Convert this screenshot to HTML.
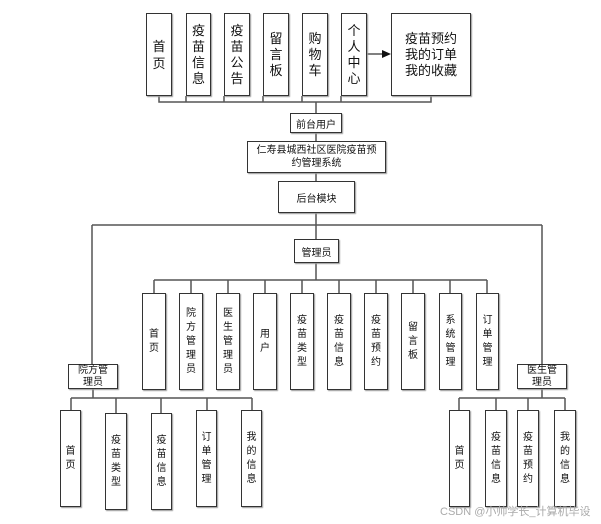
<!DOCTYPE html>
<html><head><meta charset="utf-8"><style>
body{margin:0;background:#fff;}
#c{position:relative;width:601px;height:524px;overflow:hidden;font-family:"Liberation Sans","Noto Sans CJK SC",sans-serif;color:#111;}
.b{position:absolute;box-sizing:border-box;border:1.5px solid #333;background:#fff;display:flex;align-items:center;justify-content:center;text-align:center;box-shadow:1px 1px 1px #999;}
.v span{display:block;width:1em;word-break:break-all;}
svg{position:absolute;left:0;top:0;}
</style></head><body><div id="c">
<svg width="601" height="524">
<g stroke="#555" stroke-width="1.5" fill="none">
<path d="M159 96V102H431V96M186 96V102M224 96V102M263 96V102M302 96V102M341 96V102"/>
<path d="M316 102V113M316 133V141M316 173V181M316 213V225M92 225H542M316 225V239M92 225V364M542 225V364"/>
<path d="M316 263V280M154 280H487M154 280V293M191 280V293M228 280V293M265 280V293M302 280V293M339 280V293M376 280V293M413 280V293M450 280V293M487 280V293"/>
<path d="M93 389V398M71 398H252M71 398V410M116 398V413M161 398V413M207 398V410M252 398V410"/>
<path d="M542 389V398M459 398H565M459 398V410M496 398V410M528 398V410M565 398V410"/>
<path d="M367 54H382"/>
</g>
<polygon points="382,50 391,54 382,58" fill="#111"/>
</svg>
<div class="b v" style="left:146px;top:13px;width:26px;height:83px;font-size:13px;line-height:17px"><span>首页</span></div>
<div class="b v" style="left:186px;top:13px;width:25px;height:83px;font-size:13px;line-height:16px"><span>疫苗信息</span></div>
<div class="b v" style="left:224px;top:13px;width:26px;height:83px;font-size:13px;line-height:16px"><span>疫苗公告</span></div>
<div class="b v" style="left:263px;top:13px;width:26px;height:83px;font-size:13px;line-height:16px"><span>留言板</span></div>
<div class="b v" style="left:302px;top:13px;width:26px;height:83px;font-size:13px;line-height:16px"><span>购物车</span></div>
<div class="b v" style="left:341px;top:13px;width:26px;height:83px;font-size:13px;line-height:16px"><span>个人中心</span></div>
<div class="b" style="left:391px;top:13px;width:80px;height:83px;font-size:13px;line-height:16px">疫苗预约<br>我的订单<br>我的收藏</div>
<div class="b" style="left:290px;top:113px;width:52px;height:20px;font-size:10px">前台用户</div>
<div class="b" style="left:247px;top:141px;width:139px;height:32px;font-size:10px;line-height:13px">仁寿县城西社区医院疫苗预<br>约管理系统</div>
<div class="b" style="left:278px;top:181px;width:77px;height:32px;font-size:10px">后台模块</div>
<div class="b" style="left:294px;top:239px;width:45px;height:24px;font-size:10px">管理员</div>
<div class="b v" style="left:142px;top:293px;width:24px;height:97px;font-size:10px;line-height:14px"><span>首页</span></div>
<div class="b v" style="left:179px;top:293px;width:24px;height:97px;font-size:10px;line-height:14px"><span>院方管理员</span></div>
<div class="b v" style="left:216px;top:293px;width:24px;height:97px;font-size:10px;line-height:14px"><span>医生管理员</span></div>
<div class="b v" style="left:253px;top:293px;width:24px;height:97px;font-size:10px;line-height:14px"><span>用户</span></div>
<div class="b v" style="left:290px;top:293px;width:24px;height:97px;font-size:10px;line-height:14px"><span>疫苗类型</span></div>
<div class="b v" style="left:327px;top:293px;width:24px;height:97px;font-size:10px;line-height:14px"><span>疫苗信息</span></div>
<div class="b v" style="left:364px;top:293px;width:24px;height:97px;font-size:10px;line-height:14px"><span>疫苗预约</span></div>
<div class="b v" style="left:401px;top:293px;width:24px;height:97px;font-size:10px;line-height:14px"><span>留言板</span></div>
<div class="b v" style="left:439px;top:293px;width:23px;height:97px;font-size:10px;line-height:14px"><span>系统管理</span></div>
<div class="b v" style="left:476px;top:293px;width:23px;height:97px;font-size:10px;line-height:14px"><span>订单管理</span></div>
<div class="b" style="left:68px;top:364px;width:50px;height:25px;font-size:10px;line-height:12px">院方管<br>理员</div>
<div class="b" style="left:517px;top:364px;width:50px;height:25px;font-size:10px;line-height:12px">医生管<br>理员</div>
<div class="b v" style="left:60px;top:410px;width:21px;height:97px;font-size:10px;line-height:14px"><span>首页</span></div>
<div class="b v" style="left:105px;top:413px;width:22px;height:97px;font-size:10px;line-height:14px"><span>疫苗类型</span></div>
<div class="b v" style="left:151px;top:413px;width:21px;height:97px;font-size:10px;line-height:14px"><span>疫苗信息</span></div>
<div class="b v" style="left:196px;top:410px;width:21px;height:97px;font-size:10px;line-height:14px"><span>订单管理</span></div>
<div class="b v" style="left:241px;top:410px;width:21px;height:97px;font-size:10px;line-height:14px"><span>我的信息</span></div>
<div class="b v" style="left:449px;top:410px;width:21px;height:97px;font-size:10px;line-height:14px"><span>首页</span></div>
<div class="b v" style="left:485px;top:410px;width:22px;height:97px;font-size:10px;line-height:14px"><span>疫苗信息</span></div>
<div class="b v" style="left:517px;top:410px;width:22px;height:97px;font-size:10px;line-height:14px"><span>疫苗预约</span></div>
<div class="b v" style="left:554px;top:410px;width:22px;height:97px;font-size:10px;line-height:14px"><span>我的信息</span></div>
<div style="position:absolute;left:440px;top:503px;font-size:11px;color:#aaa;white-space:nowrap">CSDN @小帅学长_计算机毕设</div>
</div></body></html>
